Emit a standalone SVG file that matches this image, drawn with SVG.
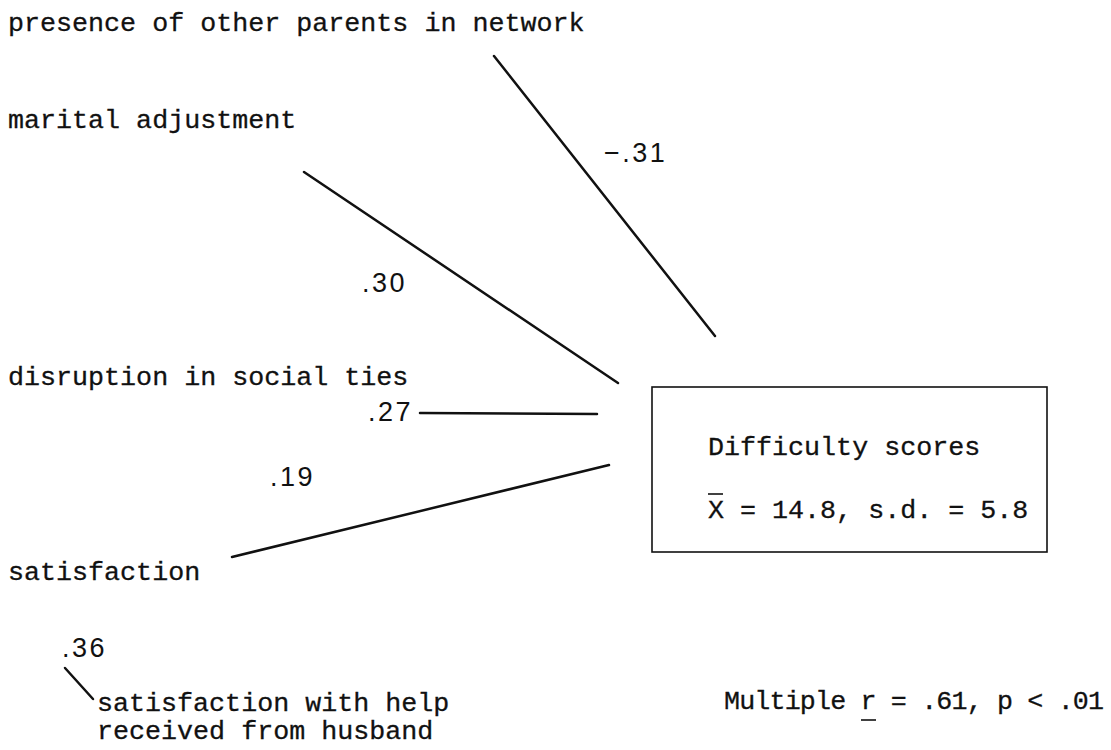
<svg xmlns="http://www.w3.org/2000/svg" width="1111" height="750" viewBox="0 0 1111 750">
<style>
.t{font-family:"Liberation Mono","Courier New",monospace;font-size:26.7px;fill:#111;stroke:#111;stroke-width:0.3}
.n{font-family:"Liberation Sans",Arial,sans-serif;font-size:27px;fill:#111;letter-spacing:2.5px}
.c{stroke:#111;stroke-width:2.5;fill:none;stroke-linecap:round}
.b{stroke:#111;stroke-width:1.6;fill:none}
</style>
<rect width="1111" height="750" fill="#fff"/>
<g id="n-presence"><text class="t" x="8" y="31">presence of other parents in network</text></g>
<g id="n-marital"><text class="t" x="8" y="128">marital adjustment</text></g>
<g id="n-disruption"><text class="t" x="8" y="385">disruption in social ties</text></g>
<g id="n-satisfaction"><text class="t" x="8" y="580">satisfaction</text></g>
<g id="n-help"><text class="t" x="97" y="711">satisfaction with help</text><text class="t" x="97" y="739">received from husband</text></g>
<g id="n-difficulty">
<rect class="b" x="652" y="387" width="395" height="165"/>
<text class="t" x="708" y="455">Difficulty scores</text>
<text class="t" x="708" y="518">X = 14.8, s.d. = 5.8</text>
<line class="b" x1="708" y1="494" x2="723" y2="494"/>
</g>
<g id="n-multiple"><text class="t" x="724" y="709" textLength="380" lengthAdjust="spacing">Multiple r = .61, p &lt; .01</text><line class="b" x1="861" y1="720" x2="876" y2="720"/></g>
<g id="connectors">
<line class="c" x1="494" y1="56" x2="715" y2="336"/>
<line class="c" x1="304" y1="172" x2="618" y2="383"/>
<line class="c" x1="420" y1="413" x2="597" y2="414"/>
<line class="c" x1="232" y1="557" x2="609" y2="465"/>
<line class="c" x1="65" y1="668" x2="93" y2="699"/>
<text class="n" x="604" y="162">−.31</text>
<text class="n" x="362" y="292">.30</text>
<text class="n" x="368" y="421">.27</text>
<text class="n" x="270" y="486">.19</text>
<text class="n" x="62" y="657">.36</text>
</g>
</svg>
